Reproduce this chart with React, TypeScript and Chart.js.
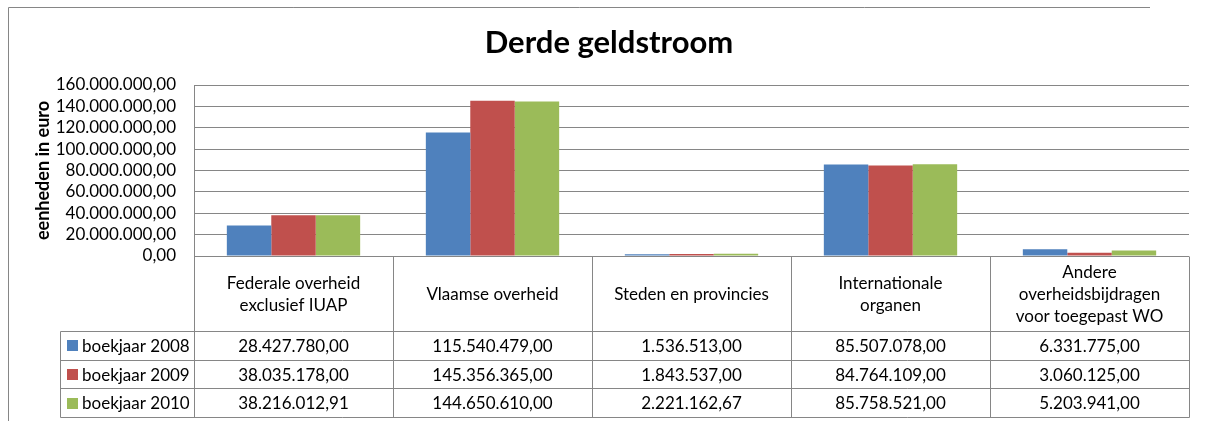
import React, { useEffect, useRef } from "react";
import { Chart, registerables } from "chart.js";

Chart.register(...registerables);

const titleText = "Derde geldstroom";
const yAxisTitle = "eenheden in euro";
const categories: string[][] = [
  ["Federale overheid", "exclusief IUAP"],
  ["Vlaamse overheid"],
  ["Steden en provincies"],
  ["Internationale", "organen"],
  ["Andere", "overheidsbijdragen", "voor toegepast WO"],
];
const seriesLabels = ["boekjaar 2008", "boekjaar 2009", "boekjaar 2010"];
const values2008 = [28427780.0, 115540479.0, 1536513.0, 85507078.0, 6331775.0];
const values2009 = [38035178.0, 145356365.0, 1843537.0, 84764109.0, 3060125.0];
const values2010 = [38216012.91, 144650610.0, 2221162.67, 85758521.0, 5203941.0];
const seriesColors = ["#4F81BD", "#C0504D", "#9BBB59"];
const yMin = 0;
const yMax = 160000000;
const yStep = 20000000;

const FONT = "Lato, 'Open Sans', sans-serif";
const LINE = "#868686";

function fmt(v: number): string {
  const fixed = Math.abs(v).toFixed(2);
  const [i, d] = fixed.split(".");
  const withDots = i.replace(/\B(?=(\d{3})+(?!\d))/g, ".");
  return (v < 0 ? "-" : "") + withDots + "," + d;
}

const allSeries = [values2008, values2009, values2010];

const framePlugin = {
  id: "frame",
  beforeDraw(chart: any) {
    const { ctx } = chart;
    ctx.save();
    ctx.fillStyle = "#ffffff";
    ctx.fillRect(0, 0, chart.width, chart.height);
    ctx.strokeStyle = LINE;
    ctx.lineWidth = 1;
    ctx.beginPath();
    ctx.moveTo(8.5, chart.height);
    ctx.lineTo(8.5, 7.5);
    ctx.lineTo(1150, 7.5);
    ctx.stroke();
    ctx.restore();
  },
};

const tablePlugin = {
  id: "dataTable",
  afterDraw(chart: any) {
    const { ctx, chartArea } = chart;
    const n = categories.length;
    const left = chartArea.left;
    const right = chartArea.right;
    const colW = (right - left) / n;
    const top = chartArea.bottom;
    const headerH = 75;
    const rowH = 28.7;
    const legendLeft = 60;
    const p = (v: number) => Math.round(v) + 0.5;
    const rowsTop = top + headerH;
    const bottom = rowsTop + rowH * seriesLabels.length;

    ctx.save();
    ctx.strokeStyle = LINE;
    ctx.lineWidth = 1;
    ctx.beginPath();
    ctx.moveTo(left, p(top));
    ctx.lineTo(right, p(top));
    for (let r = 0; r <= seriesLabels.length; r++) {
      const y = p(rowsTop + r * rowH);
      ctx.moveTo(p(legendLeft), y);
      ctx.lineTo(p(right), y);
    }
    for (let c = 0; c <= n; c++) {
      const x = p(left + c * colW);
      ctx.moveTo(x, p(top));
      ctx.lineTo(x, p(bottom));
    }
    ctx.moveTo(p(legendLeft), p(rowsTop));
    ctx.lineTo(p(legendLeft), p(bottom));
    ctx.stroke();

    ctx.fillStyle = "#000000";
    ctx.font = `17px ${FONT}`;
    ctx.textAlign = "center";
    ctx.textBaseline = "middle";
    const lh = 22;
    categories.forEach((lines, c) => {
      const cx = chart.scales.x.getPixelForValue(c);
      const cy = top + headerH / 2 + 1;
      lines.forEach((t, k) => {
        ctx.fillText(t, cx, cy + (k - (lines.length - 1) / 2) * lh);
      });
    });
    allSeries.forEach((vals, r) => {
      const cy = rowsTop + r * rowH + rowH / 2 + 1;
      vals.forEach((v, c) => {
        const cx = chart.scales.x.getPixelForValue(c);
        ctx.fillText(fmt(v), cx, cy);
      });
      ctx.fillStyle = seriesColors[r];
      ctx.fillRect(67, Math.round(cy - 6), 11, 11);
      ctx.fillStyle = "#000000";
      ctx.textAlign = "left";
      ctx.fillText(seriesLabels[r], 82, cy);
      ctx.textAlign = "center";
    });
    ctx.restore();
  },
};

export default function App() {
  const ref = useRef<HTMLCanvasElement | null>(null);
  useEffect(() => {
    if (!ref.current) return;
    const chart = new Chart(ref.current, {
      type: "bar",
      data: {
        labels: categories.map((c) => c.join(" ")),
        datasets: seriesLabels.map((label, i) => ({
          label,
          data: allSeries[i],
          backgroundColor: seriesColors[i],
          borderWidth: 0,
          categoryPercentage: 0.67,
          barPercentage: 1.0,
        })),
      },
      options: {
        animation: false,
        responsive: false,
        devicePixelRatio: 1,
        layout: { padding: { left: 29, right: 18, top: 0, bottom: 165 }, autoPadding: false },
        plugins: {
          legend: { display: false },
          tooltip: { enabled: false },
          title: {
            display: true,
            text: titleText,
            color: "#000000",
            font: { family: FONT, size: 31, weight: "bold", lineHeight: 1.2 },
            padding: { top: 24, bottom: 23.8 },
          },
        },
        scales: {
          x: { display: false, offset: true },
          y: {
            min: yMin,
            max: yMax,
            ticks: {
              stepSize: yStep,
              autoSkip: false,
              color: "#000000",
              padding: 18,
              font: { family: FONT, size: 17 },
              callback: (v: any) => fmt(Number(v)),
            },
            grid: { color: LINE, drawTicks: false, lineWidth: 1 },
            border: { display: true, color: LINE },
            title: {
              display: true,
              text: yAxisTitle,
              color: "#000000",
              font: { family: FONT, size: 18, weight: "bold", lineHeight: 1.2 },
              padding: { top: 3, bottom: 0 },
            },
            afterFit: (scale: any) => {
              scale.width = 165;
            },
          },
        },
      },
      plugins: [framePlugin, tablePlugin],
    });
    return () => chart.destroy();
  }, []);
  return (
    <div style={{ position: "fixed", left: 0, top: 0, width: 1207, height: 421, background: "#fff" }}>
      <canvas ref={ref} width={1207} height={421} style={{ display: "block" }} />
    </div>
  );
}
